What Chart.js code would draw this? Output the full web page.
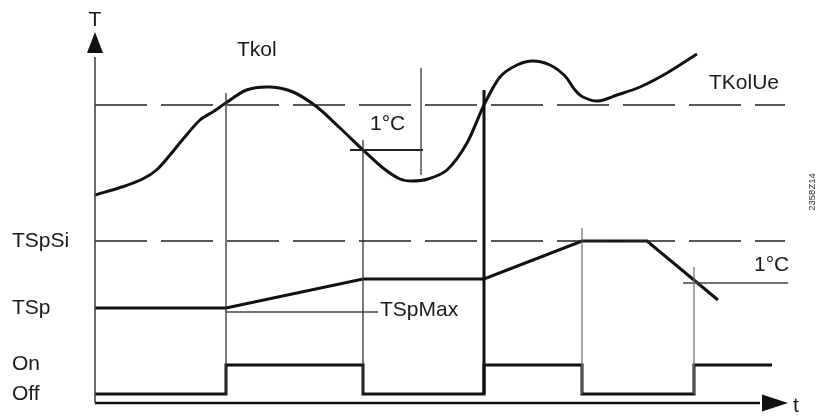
<!DOCTYPE html>
<html><head><meta charset="utf-8">
<script src="https://cdn.jsdelivr.net/npm/chart.js@4"></script>
<style>html,body{margin:0;padding:0;background:#fff}#wrap{width:823px;height:417px;position:relative}</style>
</head><body><div id="wrap"><canvas id="c"></canvas></div>
<script>
// ---- data (time units, temperature units) ----
const tkolTime = [0,5.7,9.7,12.3,15,17.7,21,23.7,26,30.3,35,39.6,44.4,49,53.6,57.6,61,63.4,66.6,70.4,74.4,77.8,81,84.4,87.6,91,94,96,97.6,100.6,104.4,109,114.4,120.4];
const tkolValue = [41.6,43.3,44.9,46.6,49.6,52.9,56.6,58.3,59.9,62.6,63.2,62.2,59.2,55,50.6,47,44.8,44.4,44.8,46.6,52,59.6,65.2,67.6,68.4,67.6,65.4,62.6,61.2,60.4,61.6,63.2,66,69.8];
const setpointTime = [0,26.2,53.6,77.8,97.4,110.4,124.6];
const setpointValue = [19,19,24.8,24.8,32.4,32.4,20.6];
const pumpTime = [0,26.2,53.6,77.8,97.4,119.8,135.4];
const pumpState = [0,1,0,1,0,1,1];
const levelTKolUe = 59.6;
const levelTSpSi = 32.4;
const levelTSpMax = 18.2;
const levelOn = 7.6;
const levelOff = 1.8;
const guideTime = [26.2,53.6,65.2,97.4,119.8];
const guideTop = [62,52.6,67,35,27.2];
const guideBottom = [1.8,1.8,45.6,1.8,1.8];
const mainSwitchTime = 77.8, mainSwitchTop = 62.6;
const hystUpper = {y:50.6, from:51, to:65.6};
const hystLower = {y:24, from:117.6, to:138.6};
const tSpMaxRange = [26.2,56.6];
const xMax = 139, yMax = 74.2;

const xy = (xs, ys) => xs.map((x,i)=>({x, y: ys[i]}));
const seg = (x1,y1,x2,y2) => [{x:x1,y:y1},{x:x2,y:y2}];
const base = {showLine:true, pointRadius:0, fill:false, borderColor:'#111', tension:0};

const datasets = [];
// axes
datasets.push({...base, data: seg(0,0,0,yMax-5), borderWidth:1.6, borderColor:'#444'});
datasets.push({...base, data: seg(0,0,xMax-6,0), borderWidth:2.5, borderColor:'#111'});
// dashed limits
datasets.push({...base, data: seg(0,levelTKolUe,138,levelTKolUe), borderWidth:1.3, borderColor:'#222', borderDash:[52,14]});
datasets.push({...base, data: seg(0,levelTSpSi,138,levelTSpSi), borderWidth:1.3, borderColor:'#222', borderDash:[52,14]});
// guides
guideTime.forEach((t,i)=>{
  datasets.push({...base, data: seg(t,guideBottom[i],t,guideTop[i]), borderWidth:1.3, borderColor: i>=3 ? '#777' : '#333'});
});
datasets.push({...base, data: seg(mainSwitchTime,levelOff,mainSwitchTime,mainSwitchTop), borderWidth:3, borderColor:'#111'});
datasets.push({...base, data: seg(hystUpper.from,hystUpper.y,hystUpper.to,hystUpper.y), borderWidth:2, borderColor:'#222'});
datasets.push({...base, data: seg(hystLower.from,hystLower.y,hystLower.to,hystLower.y), borderWidth:1.3, borderColor:'#444'});
datasets.push({...base, data: seg(tSpMaxRange[0],levelTSpMax,tSpMaxRange[1],levelTSpMax), borderWidth:1.3, borderColor:'#444'});
// setpoint
datasets.push({...base, data: xy(setpointTime,setpointValue), borderWidth:3, borderColor:'#111'});
// pump
datasets.push({...base, data: xy(pumpTime, pumpState.map(s=>s?levelOn:levelOff)), borderWidth:3, borderColor:'#111', stepped:'before'});
// collector curve
datasets.push({...base, data: xy(tkolTime,tkolValue), borderWidth:3, borderColor:'#111', tension:0.3});

const labels = [
  {t:'T', x:0, y:76.6, align:'center'},
  {t:'Tkol', x:28.4, y:70.6},
  {t:'1°C', x:55, y:55.8},
  {t:'TKolUe', x:122.8, y:64},
  {t:'TSpSi', x:-16.6, y:levelTSpSi},
  {t:'TSp', x:-16.6, y:19},
  {t:'On', x:-16.6, y:7.8},
  {t:'Off', x:-16.6, y:levelOff},
  {t:'TSpMax', x:57, y:18.6},
  {t:'1°C', x:131.8, y:27.6},
  {t:'t', x:139.6, y:-0.6},
];
const labelFontSize = 21;

const deco = {
  id:'deco',
  afterDatasetsDraw(chart){
    const {ctx, scales:{x, y}} = chart;
    ctx.save();
    ctx.fillStyle = '#111';
    // y arrow
    const ax = x.getPixelForValue(0), ay = y.getPixelForValue(yMax);
    ctx.beginPath(); ctx.moveTo(ax, ay); ctx.lineTo(ax-8, ay+21); ctx.lineTo(ax+8, ay+21); ctx.closePath(); ctx.fill();
    // x arrow
    const bx = x.getPixelForValue(xMax-0.4), by = y.getPixelForValue(0);
    ctx.beginPath(); ctx.moveTo(bx, by); ctx.lineTo(bx-26, by-8.5); ctx.lineTo(bx-26, by+8.5); ctx.closePath(); ctx.fill();
    // labels
    ctx.fillStyle = '#1a1a1a';
    ctx.textBaseline = 'middle';
    ctx.font = labelFontSize+'px "Liberation Sans", Arial, sans-serif';
    labels.forEach(l=>{
      ctx.textAlign = l.align || 'left';
      ctx.fillText(l.t, x.getPixelForValue(l.x), y.getPixelForValue(l.y));
    });
    // figure code
    ctx.save();
    ctx.translate(812, 192);
    ctx.rotate(-Math.PI/2);
    ctx.font = '9.5px "Liberation Sans", Arial, sans-serif';
    ctx.textAlign = 'center';
    ctx.fillStyle = '#333';
    ctx.fillText('2358Z14', 0, 0);
    ctx.restore();
    ctx.restore();
  }
};

new Chart(document.getElementById('c'), {
  type:'scatter',
  data:{datasets},
  options:{
    responsive:true, maintainAspectRatio:false, animation:false,
    layout:{padding:{left:95, right:33, top:32, bottom:14}},
    plugins:{legend:{display:false}, tooltip:{enabled:false}},
    clip:false,
    scales:{
      x:{type:'linear', min:0, max:xMax, display:false},
      y:{type:'linear', min:0, max:yMax, display:false}
    }
  },
  plugins:[deco]
});
</script></body></html>
